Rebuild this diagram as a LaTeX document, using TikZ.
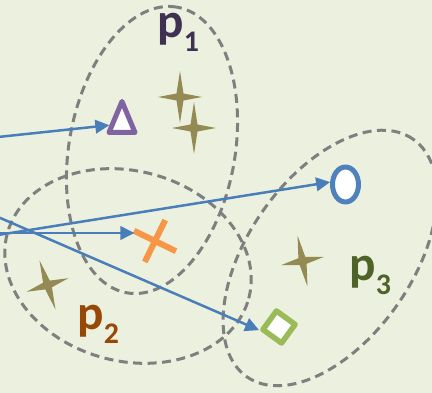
\documentclass[tikz,border=0pt]{standalone}
\usepackage{fontspec}
\setmainfont{Carlito}
\usetikzlibrary{arrows.meta, shapes.geometric, shapes.misc}
\definecolor{bgolive}{HTML}{EBF1DE}
\definecolor{ringgray}{HTML}{7F7F7F}
\definecolor{linkblue}{HTML}{4A7EBB}
\definecolor{starkhaki}{HTML}{948A54}
\definecolor{triviolet}{HTML}{8064A2}
\definecolor{dotblue}{HTML}{4F81BD}
\definecolor{crossorange}{HTML}{F79646}
\definecolor{boxgreen}{HTML}{9BBB59}
\definecolor{pone}{HTML}{3F3151}
\definecolor{ptwo}{HTML}{974806}
\definecolor{pthree}{HTML}{4F6228}

\begin{document}
\begin{tikzpicture}[x=0.2mm, y=0.2mm,
  >={Triangle[length=2.8mm, width=2.7mm]},
  ring/.style={draw=ringgray, line width=0.6mm, dash pattern=on 1.8mm off 1.1mm},
  link/.style={draw=linkblue, line width=0.5mm, ->},
  marker/.style={fill=white, inner sep=0pt, line join=round},
  plabel/.style={font=\fontsize{28}{30}\selectfont\bfseries, inner sep=0pt, anchor=base west}]

% Background
\fill[bgolive] (0,0) rectangle (432,393);
\clip (0,0) rectangle (432,393);

% Groups (dashed ellipses)
\draw[ring] (152,243) circle[x radius=145, y radius=83, rotate=80];
\draw[ring] (128,127) circle[x radius=125, y radius=95, rotate=-15];
\draw[ring] (330,135) circle[x radius=145, y radius=82, rotate=55];

% Stars
\foreach \sx/\sy/\sr in {180/296/0, 194/265/0, 47.5/108/18, 302.5/132/11} {
  \fill[starkhaki, shift={(\sx,\sy)}, rotate=\sr]
    (0,26) -- (3.5,3.5) -- (22,0) -- (3.5,-3.5) -- (0,-26) -- (-3.5,-3.5) -- (-22,0) -- (-3.5,3.5) -- cycle;
}

% Markers
\node[marker, draw=triviolet, line width=1mm, isosceles triangle, isosceles triangle stretches,
  shape border rotate=90, minimum width=5.2mm, minimum height=6.2mm, anchor=south] (tri) at (122,258) {};
\node[marker, draw=dotblue, line width=1mm, ellipse, minimum width=5.2mm, minimum height=7mm] (dot) at (345.5,208.5) {};
\node[draw=crossorange, line width=1.2mm, cross out, minimum size=5.4mm, inner sep=0pt, rotate=19] (xmark) at (155,152) {};
\node[marker, draw=boxgreen, line width=1.1mm, minimum size=4.6mm, rotate=-36] (box) at (279,66) {};

% Incoming arrows
\coordinate (srcA) at (-2,256);
\coordinate (srcB) at (-2,158);
\coordinate (srcC) at (-2,160);
\coordinate (srcD) at (-2,176);
\draw[link] (srcA) -- (tri);
\draw[link] (srcB) -- (dot.171);
\draw[link] (srcC) -- (srcC -| xmark.137);
\draw[link] (srcD) -- (box.south west);

% Labels
\node[plabel, text=pone] (lone) at (157,355) {p\raisebox{-7.4pt}{\fontsize{17}{18}\selectfont 1}};
\node[plabel, text=ptwo] (ltwo) at (77,63) {p\raisebox{-7.4pt}{\fontsize{17}{18}\selectfont 2}};
\node[plabel, text=pthree] (lthree) at (349,112) {p\raisebox{-7.4pt}{\fontsize{17}{18}\selectfont 3}};

\end{tikzpicture}
\end{document}
